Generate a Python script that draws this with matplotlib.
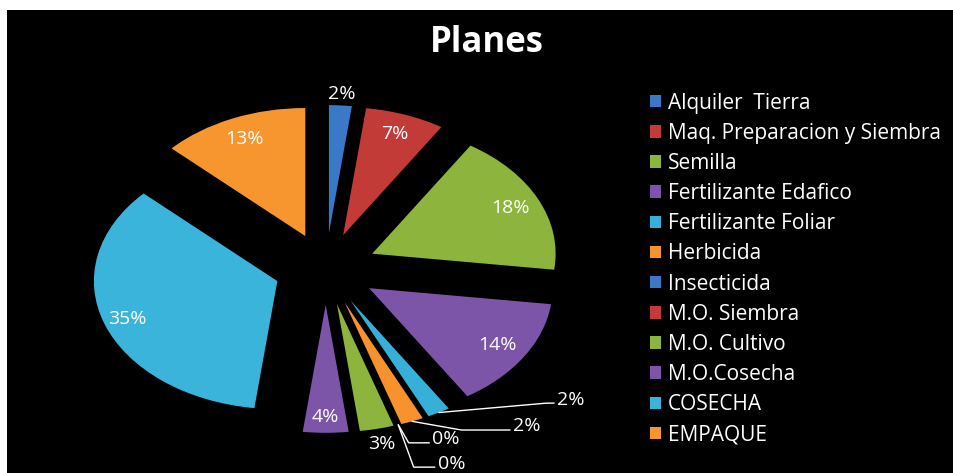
import matplotlib.pyplot as plt
from matplotlib.patches import Rectangle
import numpy as np

# datos del grafico
categorias = ["Alquiler  Tierra", "Maq. Preparacion y Siembra", "Semilla",
              "Fertilizante Edafico", "Fertilizante Foliar", "Herbicida",
              "Insecticida", "M.O. Siembra", "M.O. Cultivo", "M.O.Cosecha",
              "COSECHA", "EMPAQUE"]
porcentajes = [2, 7, 18, 14, 2, 2, 0, 0, 3, 4, 35, 13]
colores = ["#3a78c8", "#c23b36", "#8db43c", "#7c55a8", "#36b0d8", "#f7922c",
           "#3a78c8", "#c23b36", "#8db43c", "#7c55a8", "#3bb4dc", "#f7962e"]

# distancia de la etiqueta desde el centro (None = con linea guia)
dist_etiqueta = [1.37, 1.12, 1.11, 1.11, None, None, None, None, 1.40, 1.16, 1.15, 1.11]
# posicion del texto para las etiquetas con linea guia
texto_guia = {4: (1.26, -1.02), 5: (1.02, -1.23), 6: (0.58, -1.33), 7: (0.61, -1.52)}
angulo_guia = {4: 5, 5: -10, 6: -60, 7: -70}

explode = 0.28

fig = plt.figure(figsize=(9.54, 4.73), dpi=100, facecolor="white")
fig.patches.append(Rectangle((7 / 954, 0), 1, 1 - 10 / 473, transform=fig.transFigure,
                             facecolor="black", edgecolor="none", zorder=-1))

ax = fig.add_axes([0.0414, 0.0254, 0.600, 0.812])
wedges, _ = ax.pie(porcentajes, explode=[explode] * len(porcentajes), colors=colores,
                   startangle=90, counterclock=False, radius=1,
                   wedgeprops=dict(linewidth=0))
ax.set_aspect("auto")
ax.set_xlim(-1.56, 1.56)
ax.set_ylim(-1.5, 1.5)
ax.axis("off")

fuente = "Open Sans"
for i, w in enumerate(wedges):
    ang = np.deg2rad((w.theta1 + w.theta2) / 2)
    etiqueta = f"{porcentajes[i]}%"
    if dist_etiqueta[i] is not None:
        d = dist_etiqueta[i]
        ax.text(d * np.cos(ang), d * np.sin(ang), etiqueta, color="white",
                ha="center", va="center", fontsize=14, family=fuente)
    else:
        r = explode + 1.0
        ax.annotate(etiqueta, xy=(r * np.cos(ang), r * np.sin(ang)),
                    xytext=texto_guia[i], color="white", ha="left", va="center",
                    fontsize=14, family=fuente,
                    arrowprops=dict(arrowstyle="-", color="white", lw=1,
                                    shrinkA=0, shrinkB=0, relpos=(0, 0.3),
                                    connectionstyle=f"angle,angleA=0,angleB={angulo_guia[i]},rad=0"))

fig.text(487 / 954, 1 - 43 / 473, "Planes", color="white", ha="center", va="center",
         fontsize=25, fontweight="bold", family=fuente)

fig.legend(wedges, categorias, loc="center left", bbox_to_anchor=(650 / 954, 1 - 269 / 473),
           frameon=False, labelcolor="white", prop=dict(family=fuente, size=15),
           handlelength=0.55, handleheight=0.55, handletextpad=0.3, labelspacing=0.44,
           borderpad=0, borderaxespad=0)

fig.savefig("out.png", dpi=100, facecolor=fig.get_facecolor())
